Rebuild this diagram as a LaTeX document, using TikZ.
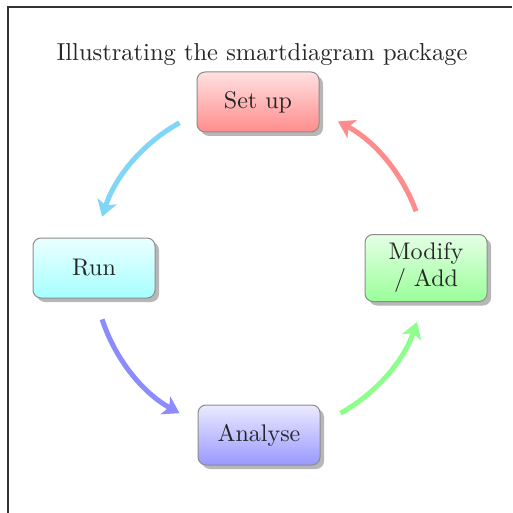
\documentclass[tikz,border=0pt]{standalone}
\usepackage{fontspec}
\setmainfont{lmroman10-regular}[Extension=.otf]
\usetikzlibrary{arrows.meta,shadows}
\tikzset{
  module/.style={draw=black!45, line width=1pt, rounded corners=8pt,
    minimum width=122pt, minimum height=60pt, align=center,
    font=\fontsize{24}{27}\selectfont, text=black!85,
    drop shadow={shadow xshift=4pt, shadow yshift=-4pt, fill=black!40, opacity=0.7}},
  cyc/.style={line width=5pt, -{Stealth[length=16pt,width=20pt,inset=4pt]}},
}
\begin{document}
\begin{tikzpicture}[x=1pt,y=-1pt]
  \useasboundingbox (0,0) rectangle (512,513);
  \fill[white] (0,0) rectangle (512,513);
  \draw[black!80, line width=2pt] (8,513) -- (8,7) -- (512,7);
  \node[font=\fontsize{24.5}{28}\selectfont, text=black!85] (title) at (262,55) {Illustrating the smartdiagram package};
  \node[module, top color=red!12, bottom color=red!45] (setup) at (258,102) {Set up};
  \node[module, top color=cyan!8, bottom color=cyan!35] (run) at (94,268) {Run};
  \node[module, top color=blue!8, bottom color=blue!40] (analyse) at (259,435) {Analyse};
  \node[module, minimum height=67pt, inner sep=2pt, top color=green!10, bottom color=green!40] (modify) at (426,268) {Modify\\/ Add};
  \coordinate (c) at (260,268);
  \draw[cyc, red!45] ([shift={(20:166pt)}]c) arc[start angle=20, end angle=62, radius=166pt];
  \draw[cyc, cyan!50] ([shift={(119:166pt)}]c) arc[start angle=119, end angle=162, radius=166pt];
  \draw[cyc, blue!45] ([shift={(198:166pt)}]c) arc[start angle=198, end angle=241, radius=166pt];
  \draw[cyc, green!45] ([shift={(299:166pt)}]c) arc[start angle=299, end angle=341, radius=166pt];
\end{tikzpicture}
\end{document}
